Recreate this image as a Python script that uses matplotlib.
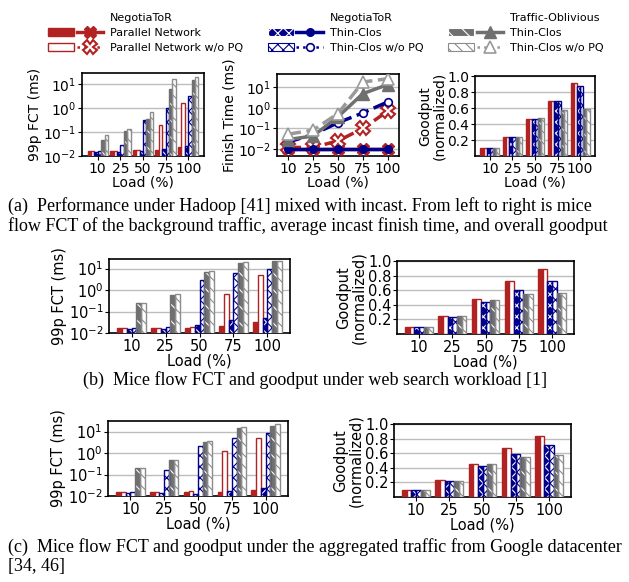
import matplotlib
matplotlib.use("Agg")
import matplotlib.pyplot as plt
import numpy as np
from matplotlib.patches import Patch
from matplotlib.lines import Line2D
from matplotlib.legend_handler import HandlerTuple

plt.rcParams['font.family'] = ['DejaVu Sans']
plt.rcParams['hatch.linewidth'] = 0.8

loads = ["10", "25", "50", "75", "100"]
series = ["NegotiaToR Parallel Network", "NegotiaToR Parallel Network w/o PQ",
          "NegotiaToR Thin-Clos", "NegotiaToR Thin-Clos w/o PQ",
          "Traffic-Oblivious Thin-Clos", "Traffic-Oblivious Thin-Clos w/o PQ"]

# (a) hadoop + incast, rows follow `series`
a_fct = [[0.016, 0.016, 0.017, 0.017, 0.024],
         [0.016, 0.016, 0.018, 0.20, 1.6],
         [0.014, 0.014, 0.016, 0.019, 0.026],
         [0.016, 0.028, 0.32, 1.0, 3.2],
         [0.046, 0.11, 0.35, 5.9, 14.8],
         [0.077, 0.13, 0.68, 15.8, 20.0]]
a_finish = [[0.010, 0.010, 0.010, 0.010, 0.010],
            [0.012, 0.012, 0.025, 0.10, 0.70],
            [0.010, 0.010, 0.010, 0.010, 0.010],
            [0.022, 0.051, 0.19, 0.57, 1.95],
            [0.029, 0.043, 0.37, 4.9, 13.5],
            [0.053, 0.083, 0.53, 18.0, 26.0]]
a_goodput = [[0.10, 0.24, 0.46, 0.69, 0.91],
             [0.10, 0.24, 0.46, 0.69, 0.91],
             [0.10, 0.24, 0.46, 0.69, 0.88],
             [0.10, 0.24, 0.46, 0.69, 0.88],
             [0.10, 0.24, 0.47, 0.58, 0.59],
             [0.10, 0.24, 0.47, 0.58, 0.59]]

# (b) web search
b_fct = [[0.017, 0.017, 0.018, 0.022, 0.033],
         [0.017, 0.017, 0.020, 0.63, 4.8],
         [0.015, 0.016, 0.023, 0.040, 0.049],
         [0.017, 0.019, 2.9, 6.0, 10.0],
         [0.24, 0.60, 7.0, 19.0, 22.0],
         [0.24, 0.65, 7.8, 21.0, 23.0]]
b_goodput = [[0.10, 0.24, 0.485, 0.72, 0.89],
             [0.10, 0.24, 0.485, 0.72, 0.89],
             [0.10, 0.235, 0.44, 0.60, 0.72],
             [0.10, 0.235, 0.44, 0.60, 0.72],
             [0.10, 0.24, 0.46, 0.55, 0.56],
             [0.10, 0.24, 0.46, 0.55, 0.56]]

# (c) google aggregated
c_fct = [[0.015, 0.015, 0.015, 0.016, 0.020],
         [0.015, 0.015, 0.018, 1.25, 4.9],
         [0.014, 0.014, 0.013, 0.017, 0.023],
         [0.015, 0.17, 2.15, 4.9, 8.4],
         [0.195, 0.45, 3.2, 14.0, 19.0],
         [0.195, 0.48, 3.8, 16.0, 22.0]]
c_goodput = [[0.095, 0.23, 0.45, 0.67, 0.84],
             [0.095, 0.23, 0.45, 0.67, 0.84],
             [0.095, 0.22, 0.43, 0.59, 0.715],
             [0.095, 0.22, 0.43, 0.59, 0.715],
             [0.095, 0.22, 0.45, 0.55, 0.58],
             [0.095, 0.22, 0.45, 0.55, 0.58]]

RED = '#b22222'
BLUE = '#00008b'
GRAY = '#707070'
LGRAY = '#8c8c8c'

# face, edge, hatch, hatch colour
bar_styles = [(RED, RED, None, None),
              ('white', RED, None, None),
              (BLUE, BLUE, 'xxx', 'white'),
              ('white', BLUE, 'xxx', BLUE),
              (GRAY, GRAY, '\\\\', 'white'),
              ('white', LGRAY, '\\\\\\', LGRAY)]

line_styles = [dict(color=RED, ls='-', marker='X', ms=9, mfc=RED, mec=RED),
               dict(color=RED, ls='--', marker='X', ms=9.5, mfc='white', mec=RED, mew=1.5),
               dict(color=BLUE, ls='-', marker='o', ms=5.5, mfc=BLUE, mec=BLUE),
               dict(color=BLUE, ls='--', marker='o', ms=5.5, mfc='white', mec=BLUE, mew=1.2),
               dict(color=GRAY, ls='-', marker='^', ms=8, mfc=GRAY, mec=GRAY),
               dict(color='#9a9a9a', ls='--', marker='^', ms=9, mfc='white', mec='#9a9a9a', mew=1.2)]

fig = plt.figure(figsize=(6.29, 5.82), dpi=100)


def px_axes(x0, x1, y0, y1):
    W, H = 629.0, 582.0
    return fig.add_axes([x0 / W, (H - y1) / H, (x1 - x0) / W, (y1 - y0) / H])


def bars(ax, data, width=0.14):
    x = np.arange(len(loads))
    for i, (vals, st) in enumerate(zip(data, bar_styles)):
        face, edge, hatch, hcol = st
        pos = x + (i - 2.5) * width
        if hatch is None:
            ax.bar(pos, vals, width, facecolor=face, edgecolor=edge, linewidth=1, zorder=3)
        else:
            ax.bar(pos, vals, width, facecolor=face, edgecolor=hcol, hatch=hatch,
                   linewidth=0, zorder=3)
            ax.bar(pos, vals, width, fill=False, edgecolor=edge, linewidth=1, zorder=4)
    ax.set_xticks(x)
    ax.set_xticklabels(loads)


def style(ax, fs):
    ax.grid(axis='y', color='#bdbdbd', linewidth=1, zorder=0)
    ax.set_axisbelow(True)
    ax.tick_params(labelsize=fs, length=3, pad=1)
    for s in ax.spines.values():
        s.set_linewidth(1.2)
    ax.set_xlabel("Load (%)", fontsize=fs, labelpad=0)


def fct_panel(ax, data, top, fs, width=0.14):
    ax.set_yscale('log')
    bars(ax, data, width)
    ax.set_ylim(0.01, top)
    ax.set_yticks([0.01, 0.1, 1, 10])
    ax.minorticks_off()
    ax.set_ylabel("99p FCT (ms)", fontsize=fs, labelpad=1)
    style(ax, fs)


def goodput_panel(ax, data, fs, width=0.14):
    bars(ax, data, width)
    ax.set_ylim(0, 1.0)
    ax.set_yticks([0.2, 0.4, 0.6, 0.8, 1.0])
    ax.set_ylabel("Goodput\n(normalized)", fontsize=fs, labelpad=1, linespacing=1.0)
    style(ax, fs)


FS_A = 10
FS_B = 10.5

# row (a)
ax1 = px_axes(82, 204, 73, 156)
fct_panel(ax1, a_fct, 28, FS_A, width=0.15)

ax2 = px_axes(277, 399, 74, 156)
ax2.set_yscale('log')
x = np.arange(len(loads))
for k in [4, 5, 0, 1, 2, 3]:
    ax2.plot(x, a_finish[k], lw=2.5, zorder=3 + k, **line_styles[k])
ax2.set_xticks(x)
ax2.set_xticklabels(loads)
ax2.set_xlim(-0.45, 4.45)
ax2.set_ylim(0.0046, 44)
ax2.set_yticks([0.01, 0.1, 1, 10])
ax2.minorticks_off()
ax2.set_ylabel("Finish Time (ms)", fontsize=FS_A, labelpad=1)
style(ax2, FS_A)

ax3 = px_axes(475, 595, 76, 156)
goodput_panel(ax3, a_goodput, FS_A)

# row (b)
ax4 = px_axes(109, 290, 259, 333)
fct_panel(ax4, b_fct, 28, FS_B)
ax5 = px_axes(397, 574, 261, 334)
goodput_panel(ax5, b_goodput, FS_B)

# row (c)
ax6 = px_axes(108, 288, 421, 496)
fct_panel(ax6, c_fct, 31, FS_B)
ax7 = px_axes(394, 571, 424, 497)
goodput_panel(ax7, c_goodput, FS_B)

# legend
blank = Patch(visible=False)
h = []
for st, ls in zip(bar_styles, line_styles):
    face, edge, hatch, hcol = st
    if hatch is None:
        p = Patch(facecolor=face, edgecolor=edge, linewidth=1)
    else:
        p = Patch(facecolor=face, edgecolor=hcol, hatch=hatch, linewidth=0.8)
    d = dict(ls)
    if d['ls'] == '--':
        d['ls'] = ':'
    line = Line2D([], [], lw=2.5 if d['ls'] == '-' else 1.8, **d)
    h.append((p, line))

handles = [blank, h[0], h[1], blank, h[2], h[3], blank, h[4], h[5]]
labels = ["NegotiaToR", "Parallel Network", "Parallel Network w/o PQ",
          "NegotiaToR", "Thin-Clos", "Thin-Clos w/o PQ",
          "Traffic-Oblivious", "Thin-Clos", "Thin-Clos w/o PQ"]
fig.legend(handles, labels, ncol=3, loc='upper left', bbox_to_anchor=(0.06, 1 - 3 / 582),
           frameon=False, fontsize=8, handlelength=5.0, handletextpad=0.6,
           columnspacing=2.2, labelspacing=0.45,
           handler_map={tuple: HandlerTuple(ndivide=None, pad=0.2)})

# captions
cap = dict(family=['Liberation Serif', 'DejaVu Serif'], fontsize=13.6, va='center')
caps = [
    fig.text(8 / 629, 1 - 206 / 582,
             "(a)  Performance under Hadoop [41] mixed with incast. From left to right is mice", **cap),
    fig.text(8 / 629, 1 - 226 / 582,
             "flow FCT of the background traffic, average incast finish time, and overall goodput", **cap),
    fig.text(315 / 629, 1 - 380 / 582,
             "(b)  Mice flow FCT and goodput under web search workload [1]", ha='center', **cap),
    fig.text(8 / 629, 1 - 547 / 582,
             "(c)  Mice flow FCT and goodput under the aggregated traffic from Google datacenter", **cap),
    fig.text(8 / 629, 1 - 567 / 582, "[34, 46]", **cap),
]

# shrink caption font so the widest line fits the text block (8..624 px)
fig.canvas.draw()
r = fig.canvas.get_renderer()
widest = max(t.get_window_extent(r).width for t in caps)
fs = 13.6 * min(1.0, 614.0 / widest)
for t in caps:
    t.set_fontsize(fs)

fig.savefig("out.png", dpi=100)
